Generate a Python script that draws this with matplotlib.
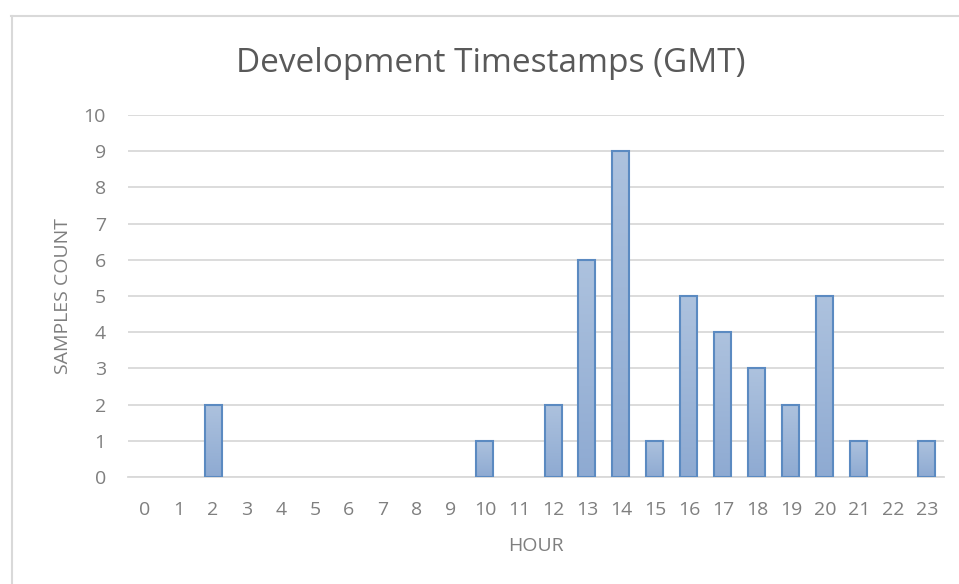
import numpy as np
import matplotlib.pyplot as plt
from matplotlib.lines import Line2D
from matplotlib.colors import LinearSegmentedColormap

hours = list(range(24))
counts = [0, 0, 2, 0, 0, 0, 0, 0, 0, 0, 1, 0, 2, 6, 9, 1, 5, 4, 3, 2, 5, 1, 0, 1]

plt.rcParams['font.family'] = ['Open Sans', 'DejaVu Sans']

fig = plt.figure(figsize=(9.59, 5.84), dpi=100)
ax = fig.add_axes([128 / 959, 1 - 477 / 584, (944 - 128) / 959, (477 - 115) / 584])

# chart border (only top and left visible in the reference)
W, H = 959, 584
fig.add_artist(Line2D([11 / W, 1.0], [1 - 15.5 / H, 1 - 15.5 / H], color='#d9d9d9', lw=1.5,
                      transform=fig.transFigure))
fig.add_artist(Line2D([11.5 / W, 11.5 / W], [0.0, 1 - 15.5 / H], color='#d9d9d9', lw=1.5,
                      transform=fig.transFigure))

lws = [1.5 if c > 0 else 0 for c in counts]
bars = ax.bar(hours, counts, width=0.5, color='none', edgecolor='#5b8ac1', linewidth=lws, zorder=3)

# vertical gradient fill like Excel
grad = np.linspace(0, 1, 256).reshape(-1, 1)
cmap = LinearSegmentedColormap.from_list('bar', ['#8eaad2', '#adc2de'])
for b in bars:
    if b.get_height() <= 0:
        continue
    x0, w, h = b.get_x(), b.get_width(), b.get_height()
    im = ax.imshow(grad, extent=[x0, x0 + w, 0, h], origin='lower', cmap=cmap,
                   aspect='auto', zorder=2)
    im.set_clip_path(b)

ax.set_xlim(-0.5, 23.5)
ax.set_ylim(0, 10)
ax.set_xticks(hours)
ax.set_yticks(range(11))
ax.grid(axis='y', color='#d9d9d9', linewidth=1.3, zorder=0)
for s in ['top', 'right', 'left']:
    ax.spines[s].set_visible(False)
ax.spines['bottom'].set_color('#d9d9d9')
ax.spines['bottom'].set_linewidth(1.3)
ax.tick_params(length=0, labelsize=14, colors='#7f7f7f')
ax.tick_params(axis='x', pad=17)
ax.tick_params(axis='y', pad=16)

ax.set_xlabel('HOUR', fontsize=14, color='#7f7f7f', labelpad=13)
ax.set_ylabel('SAMPLES COUNT', fontsize=14, color='#7f7f7f', labelpad=8)
fig.text(491 / 959, 1 - 63 / 584, 'Development Timestamps (GMT)', ha='center', va='center',
         fontsize=24, color='#595959')

fig.savefig('out.png', dpi=100)
